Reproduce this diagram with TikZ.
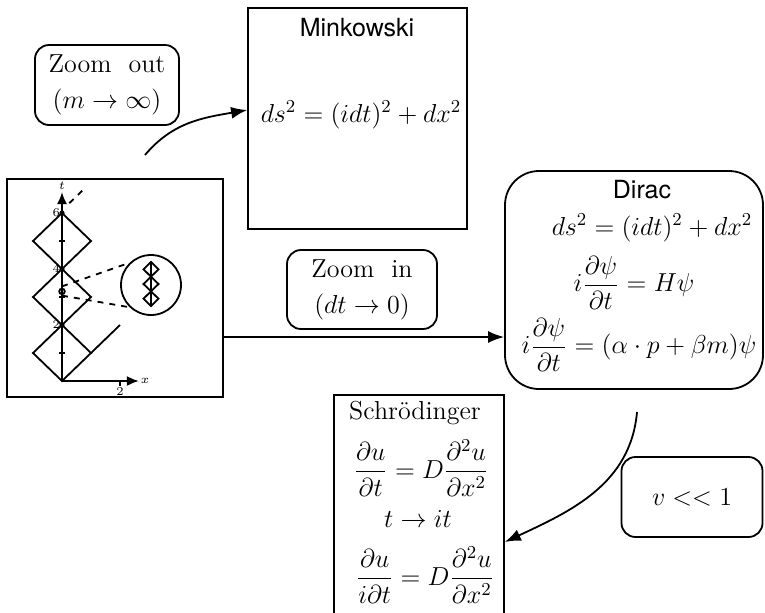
\RequirePackage{fix-cm}
\documentclass[tikz,border=0pt]{standalone}
\usepackage{amsmath,amssymb}
\usepackage{fontspec}
\newfontfamily\headfont{TeX Gyre Heros}
\usetikzlibrary{positioning,arrows.meta,calc}

\begin{document}
\begin{tikzpicture}[
  x=0.5pt, y=-0.5pt,
  every node/.style={font=\fontsize{13}{16}\selectfont},
  frame/.style={draw, line width=0.9pt, rectangle, inner sep=0pt},
  tag/.style={draw, line width=0.9pt, rectangle, rounded corners=7pt, inner sep=0pt, align=center, font=\fontsize{13}{16}\selectfont},
  head/.style={font=\headfont\fontsize{12.5}{15}\selectfont},
  arr/.style={-{Latex[length=8pt,width=6pt]}, line width=0.9pt},
  lat/.style={line width=0.9pt},
  small/.style={font=\fontsize{6}{7}\selectfont, inner sep=0.6pt}
]
\clip (0,0) rectangle (765,612);

\node[frame, minimum width=108pt, minimum height=109pt] (lattice) at (115,288) {};
\begin{scope}[shift={(62,381)}, x=14.5pt, y=14pt, lat]
  \draw[-{Latex[length=6pt,width=5pt]}] (0,0) -- (0,6.75) node[small, above] (tlab) {$t$};
  \draw[-{Latex[length=6pt,width=5pt]}] (0,0) -- (2.65,0) node[small, right] (xlab) {$x$};
  \foreach \k in {0,2,4}
    \draw (0,\k) -- (1,\k+1) -- (0,\k+2) -- (-1,\k+1) -- cycle;
  \draw (1,1) -- (2,2);
  \foreach \k in {1,3,5}
    \draw (-0.12,\k) -- (0.12,\k);
  \foreach \k in {2,4,6} {
    \fill (0,\k) circle (1.3pt);
    \node[small, left] (tick\k) at (0,\k) {$\k$};
  }
  \draw (2,0) -- (2,-0.18) node[small, below] (xtick) {$2$};
  \draw (0,3.2) circle (1.4pt);
  \coordinate (spottop) at (0,3.38);
  \coordinate (spotbot) at (0,3.05);
  \draw[dashed] (0.25,6.35) -- (0.7,6.8);
\end{scope}
\node[draw, circle, lat, minimum size=30pt, inner sep=0pt] (magnify) at (151,285) {};
\draw[lat, dashed] (spottop) -- (magnify.134);
\draw[lat, dashed] (spotbot) -- (magnify.226);
\foreach \k in {0,1,2}
  \draw[lat] (151,262+14.67*\k) -- ++(7.5,7.33) -- ++(-7.5,7.33) -- ++(-7.5,-7.33) -- cycle;
\draw[lat] (151,262) -- (151,306);

\node[frame, minimum width=109.5pt, minimum height=110.5pt] (mink) at (357.5,118.5) {};
\node[head] (minkt) at (357,28) {Minkowski};
\node (minkeq) at (361,115) {$ds^2=(idt)^2+dx^2$};

\node[frame, rounded corners=17pt, minimum width=129pt, minimum height=109pt] (dirac) at (634,280) {};
\node[head] (dirt) at (642,190) {Dirac};
\node (direq1) at (652,228) {$ds^2=(idt)^2+dx^2$};
\node (direq2) at (634,283) {$\displaystyle i\frac{\partial\psi}{\partial t}=H\psi$};
\node (direq3) at (639,345) {$\displaystyle i\frac{\partial\psi}{\partial t}=(\alpha\cdot p+\beta m)\psi$};

\node[frame, minimum width=85pt, minimum height=115pt, anchor=north west] (schr) at (333,394) {};
\node (schrt) at (415,413) {Schrödinger};
\node (schreq1) at (421,468) {$\displaystyle\frac{\partial u}{\partial t}=D\frac{\partial^2u}{\partial x^2}$};
\node (schreq2) at (418,519) {$t\to it$};
\node (schreq3) at (425,575) {$\displaystyle\frac{\partial u}{i\partial t}=D\frac{\partial^2u}{\partial x^2}$};

\node[tag, minimum width=72pt, minimum height=40pt] (zout) at (107,85) {Zoom\ \ out\\[2pt]$(m\to\infty)$};
\node[tag, minimum width=75pt, minimum height=39.5pt] (zin) at (362,289.5) {Zoom\ \ in\\[2pt]$(dt\to0)$};
\node[tag, minimum width=70.5pt, minimum height=40pt] (slow) at (692,497) {$v<<1$};

\coordinate (outstart) at (145,155);
\coordinate (minkin) at (0,110);
\draw[arr] (outstart) to[out=50, in=190] (mink.west |- minkin);

\coordinate (zinlevel) at (0,337);
\draw[arr] (lattice.east |- zinlevel) -- (dirac.west |- zinlevel);

\coordinate (nrstart) at (637,412);
\coordinate (nrend) at (0,542);
\draw[arr] (nrstart) to[out=-95, in=25] (schr.east |- nrend);
\end{tikzpicture}
\end{document}
